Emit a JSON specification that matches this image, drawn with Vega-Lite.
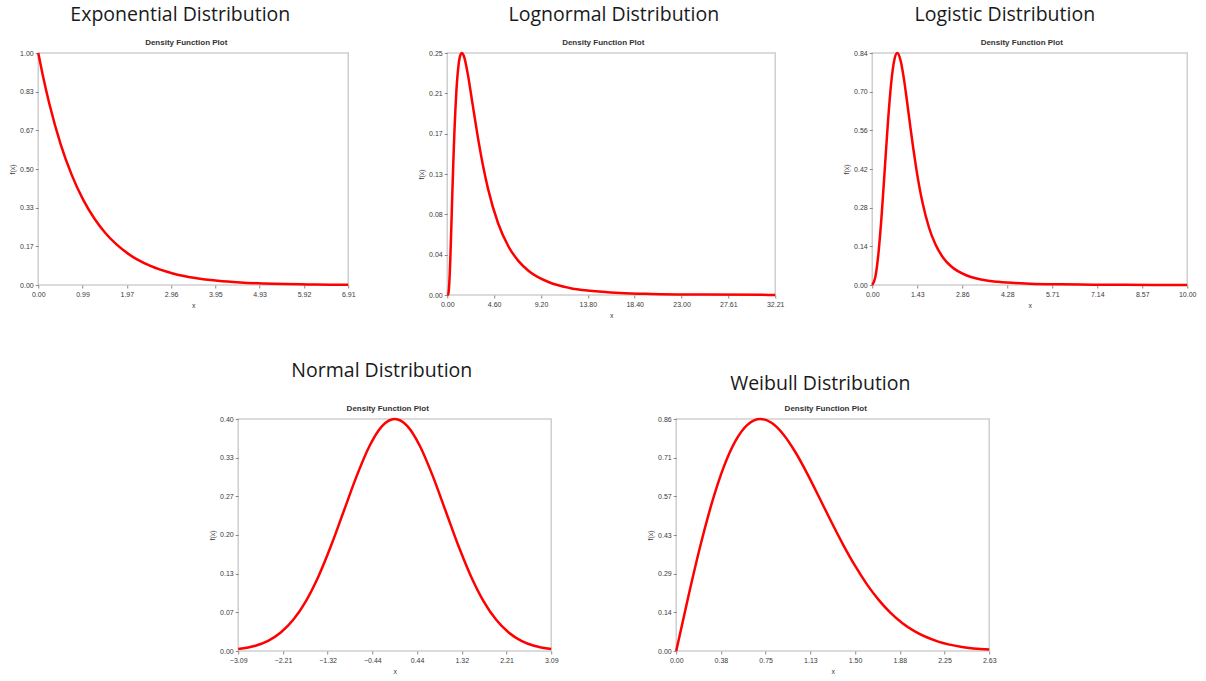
{
  "$schema": "https://vega.github.io/schema/vega-lite/v6.json",
  "padding": {"left": 7, "top": 4, "right": 5, "bottom": 5},
  "background": "white",
  "datasets": {
    "exp": [
      {"x": 0, "f": 1}, {"x": 0.1, "f": 0.9048}, {"x": 0.25, "f": 0.7788}, {"x": 0.5, "f": 0.6065},
      {"x": 0.75, "f": 0.4724}, {"x": 1, "f": 0.3679}, {"x": 1.25, "f": 0.2865}, {"x": 1.5, "f": 0.2231},
      {"x": 1.75, "f": 0.1738}, {"x": 2, "f": 0.1353}, {"x": 2.5, "f": 0.0821}, {"x": 3, "f": 0.0498},
      {"x": 3.5, "f": 0.0302}, {"x": 4, "f": 0.0183}, {"x": 4.5, "f": 0.0111}, {"x": 5, "f": 0.0067},
      {"x": 5.5, "f": 0.0041}, {"x": 6, "f": 0.0025}, {"x": 6.5, "f": 0.0015}, {"x": 6.9078, "f": 0.001}
    ],
    "logn": [
      {"x": 0, "f": 0}, {"x": 0.1, "f": 0.001}, {"x": 0.15, "f": 0.0047}, {"x": 0.2, "f": 0.0122},
      {"x": 0.25, "f": 0.0233}, {"x": 0.3, "f": 0.0374}, {"x": 0.4, "f": 0.0708}, {"x": 0.5, "f": 0.1062},
      {"x": 0.6, "f": 0.1397}, {"x": 0.7, "f": 0.1691}, {"x": 0.8, "f": 0.1937}, {"x": 0.9, "f": 0.2133},
      {"x": 1.0, "f": 0.2283}, {"x": 1.1, "f": 0.2392}, {"x": 1.2, "f": 0.2465}, {"x": 1.3, "f": 0.2508},
      {"x": 1.4333, "f": 0.2526}, {"x": 1.6, "f": 0.2503}, {"x": 1.7, "f": 0.247}, {"x": 2.0, "f": 0.2316},
      {"x": 2.5, "f": 0.1984}, {"x": 3, "f": 0.165}, {"x": 3.5, "f": 0.1356}, {"x": 4, "f": 0.111},
      {"x": 5, "f": 0.0746}, {"x": 6, "f": 0.0509}, {"x": 7, "f": 0.0354}, {"x": 8, "f": 0.0251},
      {"x": 10, "f": 0.0133}, {"x": 12, "f": 0.0074}, {"x": 14, "f": 0.0044}, {"x": 17, "f": 0.0021},
      {"x": 20, "f": 0.0011}, {"x": 25, "f": 0.0004}, {"x": 32.206, "f": 0.0001}
    ],
    "logis": [
      {"x": 0, "f": 0}, {"x": 0.1, "f": 0.0299}, {"x": 0.2, "f": 0.1181}, {"x": 0.3, "f": 0.256},
      {"x": 0.4, "f": 0.424}, {"x": 0.5, "f": 0.5926}, {"x": 0.6, "f": 0.7304}, {"x": 0.7, "f": 0.815},
      {"x": 0.7937, "f": 0.84}, {"x": 0.9, "f": 0.8129}, {"x": 1.0, "f": 0.75}, {"x": 1.1, "f": 0.6681},
      {"x": 1.2, "f": 0.5805}, {"x": 1.3, "f": 0.496}, {"x": 1.4, "f": 0.4195}, {"x": 1.5, "f": 0.3526},
      {"x": 1.6, "f": 0.2957}, {"x": 1.8, "f": 0.2082}, {"x": 2.0, "f": 0.1481}, {"x": 2.25, "f": 0.0989},
      {"x": 2.5, "f": 0.0678}, {"x": 3, "f": 0.0344}, {"x": 3.5, "f": 0.0191}, {"x": 4, "f": 0.0114},
      {"x": 5, "f": 0.0047}, {"x": 6, "f": 0.0023}, {"x": 7, "f": 0.0012}, {"x": 8, "f": 0.0007},
      {"x": 9.9967, "f": 0.0003}
    ],
    "norm": [
      {"x": -3.0902, "f": 0.0034}, {"x": -2.75, "f": 0.0091}, {"x": -2.5, "f": 0.0175}, {"x": -2.25, "f": 0.0317},
      {"x": -2, "f": 0.054}, {"x": -1.75, "f": 0.0863}, {"x": -1.5, "f": 0.1295}, {"x": -1.25, "f": 0.1826},
      {"x": -1, "f": 0.242}, {"x": -0.75, "f": 0.3011}, {"x": -0.5, "f": 0.3521}, {"x": -0.25, "f": 0.3867},
      {"x": 0, "f": 0.3989},
      {"x": 0.25, "f": 0.3867}, {"x": 0.5, "f": 0.3521}, {"x": 0.75, "f": 0.3011}, {"x": 1, "f": 0.242},
      {"x": 1.25, "f": 0.1826}, {"x": 1.5, "f": 0.1295}, {"x": 1.75, "f": 0.0863}, {"x": 2, "f": 0.054},
      {"x": 2.25, "f": 0.0317}, {"x": 2.5, "f": 0.0175}, {"x": 2.75, "f": 0.0091}, {"x": 3.0902, "f": 0.0034}
    ],
    "weib": [
      {"x": 0, "f": 0}, {"x": 0.1, "f": 0.198}, {"x": 0.2, "f": 0.3843}, {"x": 0.3, "f": 0.5483},
      {"x": 0.4, "f": 0.6817}, {"x": 0.5, "f": 0.7788}, {"x": 0.6, "f": 0.8372}, {"x": 0.7071, "f": 0.8578},
      {"x": 0.8, "f": 0.8437}, {"x": 0.9, "f": 0.8008}, {"x": 1.0, "f": 0.7358}, {"x": 1.1, "f": 0.6561},
      {"x": 1.2, "f": 0.5686}, {"x": 1.3, "f": 0.4797}, {"x": 1.4, "f": 0.3945}, {"x": 1.5, "f": 0.3162},
      {"x": 1.6, "f": 0.2474}, {"x": 1.7, "f": 0.189}, {"x": 1.8, "f": 0.141}, {"x": 1.9, "f": 0.1028},
      {"x": 2.0, "f": 0.0733}, {"x": 2.2, "f": 0.0348}, {"x": 2.4, "f": 0.0151}, {"x": 2.6283, "f": 0.0053}
    ]
  },
  "center": true,
  "spacing": 41,
  "vconcat": [
    {
      "spacing": 60,
      "hconcat": [
        {
          "title": {"text": "Exponential Distribution", "dx": -1.5},
          "vconcat": [{
            "title": {"text": "Density Function Plot", "dx": -7, "font": "Liberation Sans", "fontSize": 8, "fontWeight": "bold", "color": "#333333", "frame": "group", "offset": 1},
            "width": 310, "height": 232,
            "data": {"name": "exp"},
            "mark": {"type": "line", "color": "#ff0000", "strokeWidth": 2.5, "interpolate": "monotone"},
            "encoding": {
              "x": {"field": "x", "type": "quantitative", "scale": {"domain": [0, 6.9078], "nice": false, "zero": false},
                    "axis": {"title": "x", "format": ".2f", "values": [0, 0.9868, 1.9737, 2.9605, 3.9473, 4.9341, 5.921, 6.9078]}},
              "y": {"field": "f", "type": "quantitative", "scale": {"domain": [0, 1], "nice": false},
                    "axis": {"title": "f(x)", "format": ".2f", "values": [0, 0.1667, 0.3333, 0.5, 0.6667, 0.8333, 1]}}
            }
          }]
        },
        {
          "spacing": 56,
          "hconcat": [
            {
              "title": {"text": "Lognormal Distribution", "dx": 13},
              "vconcat": [{
                "title": {"text": "Density Function Plot", "dx": -8, "font": "Liberation Sans", "fontSize": 8, "fontWeight": "bold", "color": "#333333", "frame": "group", "offset": 1},
                "width": 328, "height": 242,
                "data": {"name": "logn"},
                "mark": {"type": "line", "color": "#ff0000", "strokeWidth": 2.5, "interpolate": "monotone"},
                "encoding": {
                  "x": {"field": "x", "type": "quantitative", "scale": {"domain": [0, 32.206], "nice": false, "zero": false},
                        "axis": {"title": "x", "format": ".2f", "values": [0, 4.6009, 9.2017, 13.8026, 18.4034, 23.0043, 27.6051, 32.206]}},
                  "y": {"field": "f", "type": "quantitative", "scale": {"domain": [0, 0.2526], "nice": false},
                        "axis": {"title": "f(x)", "format": ".2f", "values": [0, 0.0421, 0.0842, 0.1263, 0.1684, 0.2105, 0.2526]}}
                }
              }]
            },
            {
              "title": {"text": "Logistic Distribution", "dx": -14.5},
              "vconcat": [{
                "title": {"text": "Density Function Plot", "dx": -8, "font": "Liberation Sans", "fontSize": 8, "fontWeight": "bold", "color": "#333333", "frame": "group", "offset": 1},
                "width": 315, "height": 232,
                "data": {"name": "logis"},
                "mark": {"type": "line", "color": "#ff0000", "strokeWidth": 2.5, "interpolate": "monotone"},
                "encoding": {
                  "x": {"field": "x", "type": "quantitative", "scale": {"domain": [0, 9.9967], "nice": false, "zero": false},
                        "axis": {"title": "x", "format": ".2f", "values": [0, 1.4281, 2.8562, 4.2843, 5.7124, 7.1405, 8.5686, 9.9967]}},
                  "y": {"field": "f", "type": "quantitative", "scale": {"domain": [0, 0.84], "nice": false},
                        "axis": {"title": "f(x)", "format": ".2f", "values": [0, 0.14, 0.28, 0.42, 0.56, 0.7, 0.84]}}
                }
              }]
            }
          ]
        }
      ]
    },
    {
      "spacing": 86,
      "hconcat": [
        {
          "title": {"text": "Normal Distribution", "dx": -1.5, "offset": 23},
          "vconcat": [{
            "title": {"text": "Density Function Plot", "dx": -7, "font": "Liberation Sans", "fontSize": 8, "fontWeight": "bold", "color": "#333333", "frame": "group", "offset": 1},
            "width": 313, "height": 232,
            "data": {"name": "norm"},
            "mark": {"type": "line", "color": "#ff0000", "strokeWidth": 2.5, "interpolate": "monotone"},
            "encoding": {
              "x": {"field": "x", "type": "quantitative", "scale": {"domain": [-3.0902, 3.0902], "nice": false, "zero": false},
                    "axis": {"title": "x", "format": ".2f", "values": [-3.0902, -2.2073, -1.3244, -0.4415, 0.4415, 1.3244, 2.2073, 3.0902]}},
              "y": {"field": "f", "type": "quantitative", "scale": {"domain": [0, 0.3989], "nice": false},
                    "axis": {"title": "f(x)", "format": ".2f", "values": [0, 0.0665, 0.133, 0.1995, 0.266, 0.3324, 0.3989]}}
            }
          }]
        },
        {
          "title": {"text": "Weibull Distribution", "dx": -1, "offset": 10},
          "vconcat": [{
            "title": {"text": "Density Function Plot", "dx": -7, "font": "Liberation Sans", "fontSize": 8, "fontWeight": "bold", "color": "#333333", "frame": "group", "offset": 1},
            "width": 313, "height": 232,
            "data": {"name": "weib"},
            "mark": {"type": "line", "color": "#ff0000", "strokeWidth": 2.5, "interpolate": "monotone"},
            "encoding": {
              "x": {"field": "x", "type": "quantitative", "scale": {"domain": [0, 2.6283], "nice": false, "zero": false},
                    "axis": {"title": "x", "format": ".2f", "values": [0, 0.3755, 0.7509, 1.1264, 1.5019, 1.8774, 2.2528, 2.6283]}},
              "y": {"field": "f", "type": "quantitative", "scale": {"domain": [0, 0.8578], "nice": false},
                    "axis": {"title": "f(x)", "format": ".2f", "values": [0, 0.143, 0.2859, 0.4289, 0.5718, 0.7148, 0.8578]}}
            }
          }]
        }
      ]
    }
  ],
  "config": {
    "view": {"stroke": "#cfcfcf", "strokeWidth": 1.5},
    "title": {"font": "Open Sans", "fontSize": 19.5, "fontWeight": "normal", "color": "#1a1a1a", "anchor": "middle", "frame": "bounds", "offset": 13},
    "axis": {
      "domain": false, "grid": false,
      "tickSize": 3, "tickColor": "#888888", "tickWidth": 1,
      "labelFont": "Liberation Sans", "labelFontSize": 7, "labelColor": "#3a3a3a", "labelPadding": 2,
      "labelFlush": false, "labelOverlap": false,
      "titleFont": "Liberation Sans", "titleFontSize": 7, "titleFontWeight": "normal", "titleColor": "#3a3a3a"
    },
    "axisX": {"titlePadding": 4},
    "axisY": {"titlePadding": 4}
  }
}
